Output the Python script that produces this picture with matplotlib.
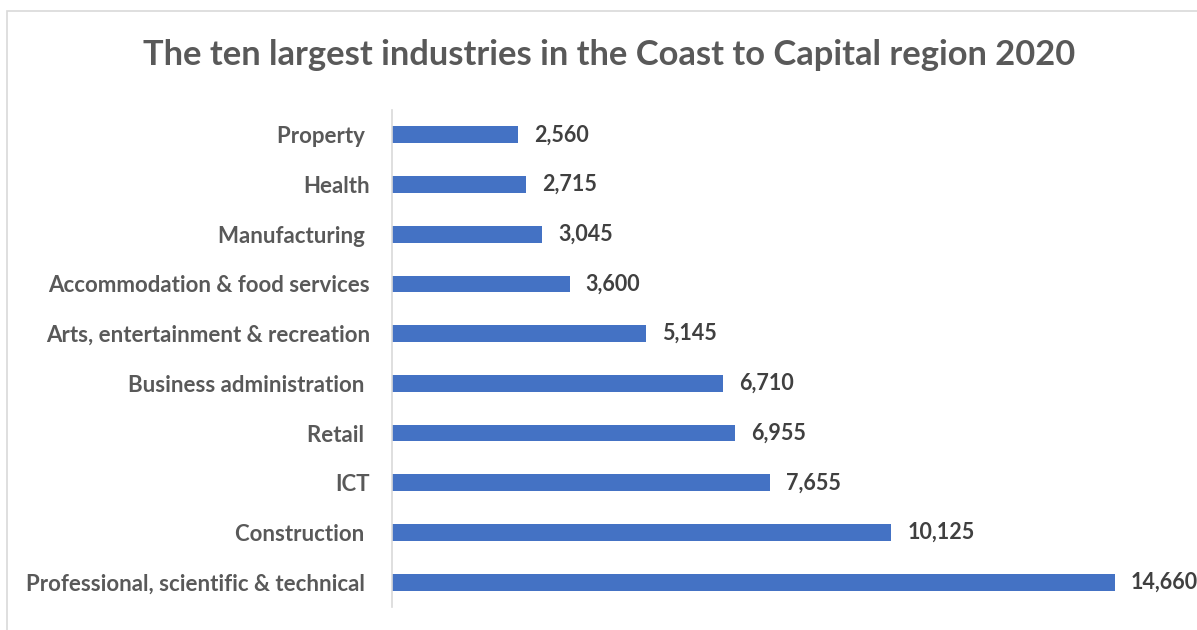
import matplotlib
matplotlib.use("Agg")
import matplotlib.pyplot as plt
from matplotlib.patches import Rectangle

categories = ["Property ", "Health", "Manufacturing ", "Accommodation & food services",
              "Arts, entertainment & recreation", "Business administration ", "Retail ",
              "ICT", "Construction ", "Professional, scientific & technical "]
values = [2560, 2715, 3045, 3600, 5145, 6710, 6955, 7655, 10125, 14660]
title = "The ten largest industries in the Coast to Capital region 2020"

plt.rcParams['font.family'] = ['Lato', 'DejaVu Sans']

W, H = 1197, 630
fig = plt.figure(figsize=(W / 100, H / 100), dpi=100)

# chart border
fig.patches.append(Rectangle((7 / W, -0.05), 1.2, 1 - 11 / H + 0.05, transform=fig.transFigure,
                             fill=False, edgecolor="#D9D9D9", linewidth=1.2))

left, right = 392 / W, 1190 / W
bottom, top = 1 - 607 / H, 1 - 110 / H
ax = fig.add_axes([left, bottom, right - left, top - bottom])

y = list(range(len(categories)))
ax.barh(y, values, height=0.34, color="#4472C4")
ax.set_ylim(len(categories) - 0.5, -0.5)
ax.set_xlim(0, 14660 * (right - left) * W / (1115 - 392))

ax.set_yticks(y)
ax.set_yticklabels(categories, fontsize=16, fontweight="bold", color="#595959")
ax.tick_params(axis="y", length=0, pad=16)
ax.set_xticks([])

for s in ["top", "right", "bottom"]:
    ax.spines[s].set_visible(False)
ax.spines["left"].set_color("#D9D9D9")
ax.spines["left"].set_linewidth(1.2)

for yi, v in zip(y, values):
    ax.annotate(f"{v:,}", (v, yi), xytext=(16, 0), textcoords="offset pixels",
                va="center", ha="left", fontsize=15.5, fontweight="bold",
                color="#404040", annotation_clip=False)

fig.text(609 / W, 1 - 55 / H, title, ha="center", va="center",
         fontsize=24.8, fontweight="bold", color="#595959")

fig.savefig("out.png", dpi=100)
